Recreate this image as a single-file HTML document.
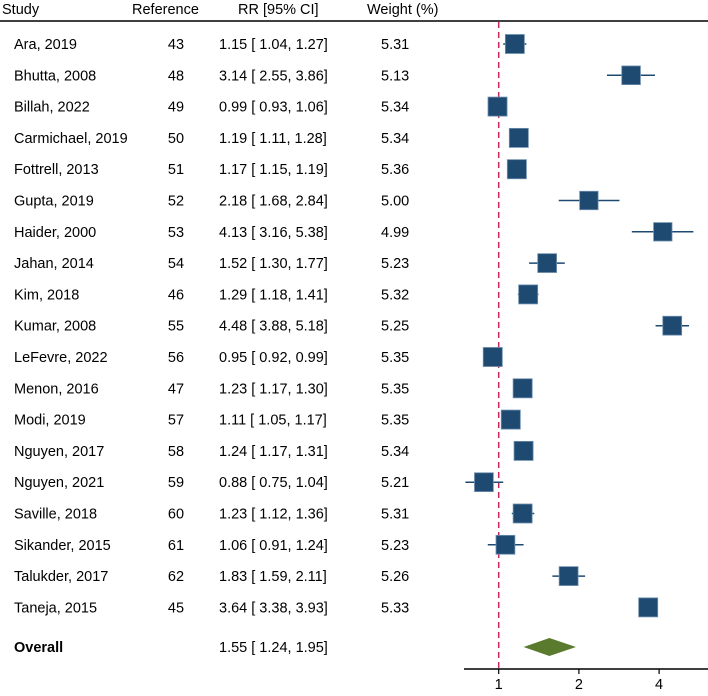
<!DOCTYPE html>
<html><head><meta charset="utf-8"><style>
body{margin:0;background:#fff;}
svg text{font-family:"Liberation Sans",Arial,sans-serif;font-size:14.5px;fill:#000;}
</style></head><body>
<svg id="plot" width="708" height="691">
<g id="hdr">
<text x="2" y="14">Study</text>
<text x="132" y="14">Reference</text>
<text x="238" y="14">RR [95% CI]</text>
<text x="367" y="14">Weight (%)</text>
<line x1="0" y1="21" x2="708" y2="21" stroke="#000" stroke-width="1.5"/>
</g>
<g id="refline"></g>
<g id="rows"></g>
<g id="axis"></g>
</svg>
<script>
const studies=["Ara, 2019","Bhutta, 2008","Billah, 2022","Carmichael, 2019","Fottrell, 2013","Gupta, 2019","Haider, 2000","Jahan, 2014","Kim, 2018","Kumar, 2008","LeFevre, 2022","Menon, 2016","Modi, 2019","Nguyen, 2017","Nguyen, 2021","Saville, 2018","Sikander, 2015","Talukder, 2017","Taneja, 2015"];
const refs=[43,48,49,50,51,52,53,54,46,55,56,47,57,58,59,60,61,62,45];
const rr=[1.15,3.14,0.99,1.19,1.17,2.18,4.13,1.52,1.29,4.48,0.95,1.23,1.11,1.24,0.88,1.23,1.06,1.83,3.64];
const lo=[1.04,2.55,0.93,1.11,1.15,1.68,3.16,1.30,1.18,3.88,0.92,1.17,1.05,1.17,0.75,1.12,0.91,1.59,3.38];
const hi=[1.27,3.86,1.06,1.28,1.19,2.84,5.38,1.77,1.41,5.18,0.99,1.30,1.17,1.31,1.04,1.36,1.24,2.11,3.93];
const weights=[5.31,5.13,5.34,5.34,5.36,5.00,4.99,5.23,5.32,5.25,5.35,5.35,5.35,5.34,5.21,5.31,5.23,5.26,5.33];
const overall=[1.55,1.24,1.95];
const ticks=[1,2,4];
const NS="http://www.w3.org/2000/svg";
const xs=v=>498.7+80.2*Math.log2(v);
const ys=i=>44+i*31.3;
function mk(t,a,p){const e=document.createElementNS(NS,t);for(const k in a)e.setAttribute(k,a[k]);p.appendChild(e);return e;}
const rows=document.getElementById('rows');
const f=v=>v.toFixed(2);
// reference line (behind markers)
const rl=mk('line',{x1:xs(1),x2:xs(1),y1:22,y2:669,stroke:'#c8285a','stroke-width':1.5,'stroke-dasharray':'6,4'},document.getElementById('refline'));


studies.forEach((s,i)=>{
  const y=ys(i);
  const g=mk('g',{},rows);
  
  
  let t=mk('text',{x:14,y:y+5},g);t.textContent=s;
  
  
  t=mk('text',{x:176,y:y+5,'text-anchor':'middle'},g);t.textContent=refs[i];
  
  
  t=mk('text',{x:219,y:y+5,'xml:space':'preserve'},g);t.textContent=f(rr[i])+" [ "+f(lo[i])+",  "+f(hi[i])+"]";
  
  
  t=mk('text',{x:381,y:y+5},g);t.textContent=f(weights[i]);
  
  
  const l=mk('line',{x1:xs(lo[i]),x2:xs(hi[i]),y1:y,y2:y,stroke:'#1e4a72','stroke-width':1.5},g);
  
  
  const sz=19*Math.sqrt(weights[i]/5.31);
  const r=mk('rect',{x:xs(rr[i])-sz/2,y:y-sz/2,width:sz,height:sz,fill:'#1e4a72',stroke:'#6f8fae','stroke-width':0.8},g);
  
  
});
const oy=647;
let t=mk('text',{x:14,y:oy+5,'font-weight':'bold'},rows);t.textContent="Overall";


t=mk('text',{x:219,y:oy+5,'xml:space':'preserve'},rows);t.textContent=f(overall[0])+" [ "+f(overall[1])+",  "+f(overall[2])+"]";


const d=mk('polygon',{points:`${xs(overall[1])},${oy} ${xs(overall[0])},${oy-9} ${xs(overall[2])},${oy} ${xs(overall[0])},${oy+9}`,fill:'#5a7a2e'},rows);


const ax=document.getElementById('axis');
const al=mk('line',{x1:464,x2:708,y1:669,y2:669,stroke:'#000','stroke-width':1.5},ax);


ticks.forEach(v=>{
  const tk=mk('line',{x1:xs(v),x2:xs(v),y1:669,y2:674,stroke:'#000','stroke-width':1.2},ax);
  
  
  const tl=mk('text',{x:xs(v),y:689,'text-anchor':'middle'},ax);tl.textContent=v;
  
  
});
</script>
</body></html>
